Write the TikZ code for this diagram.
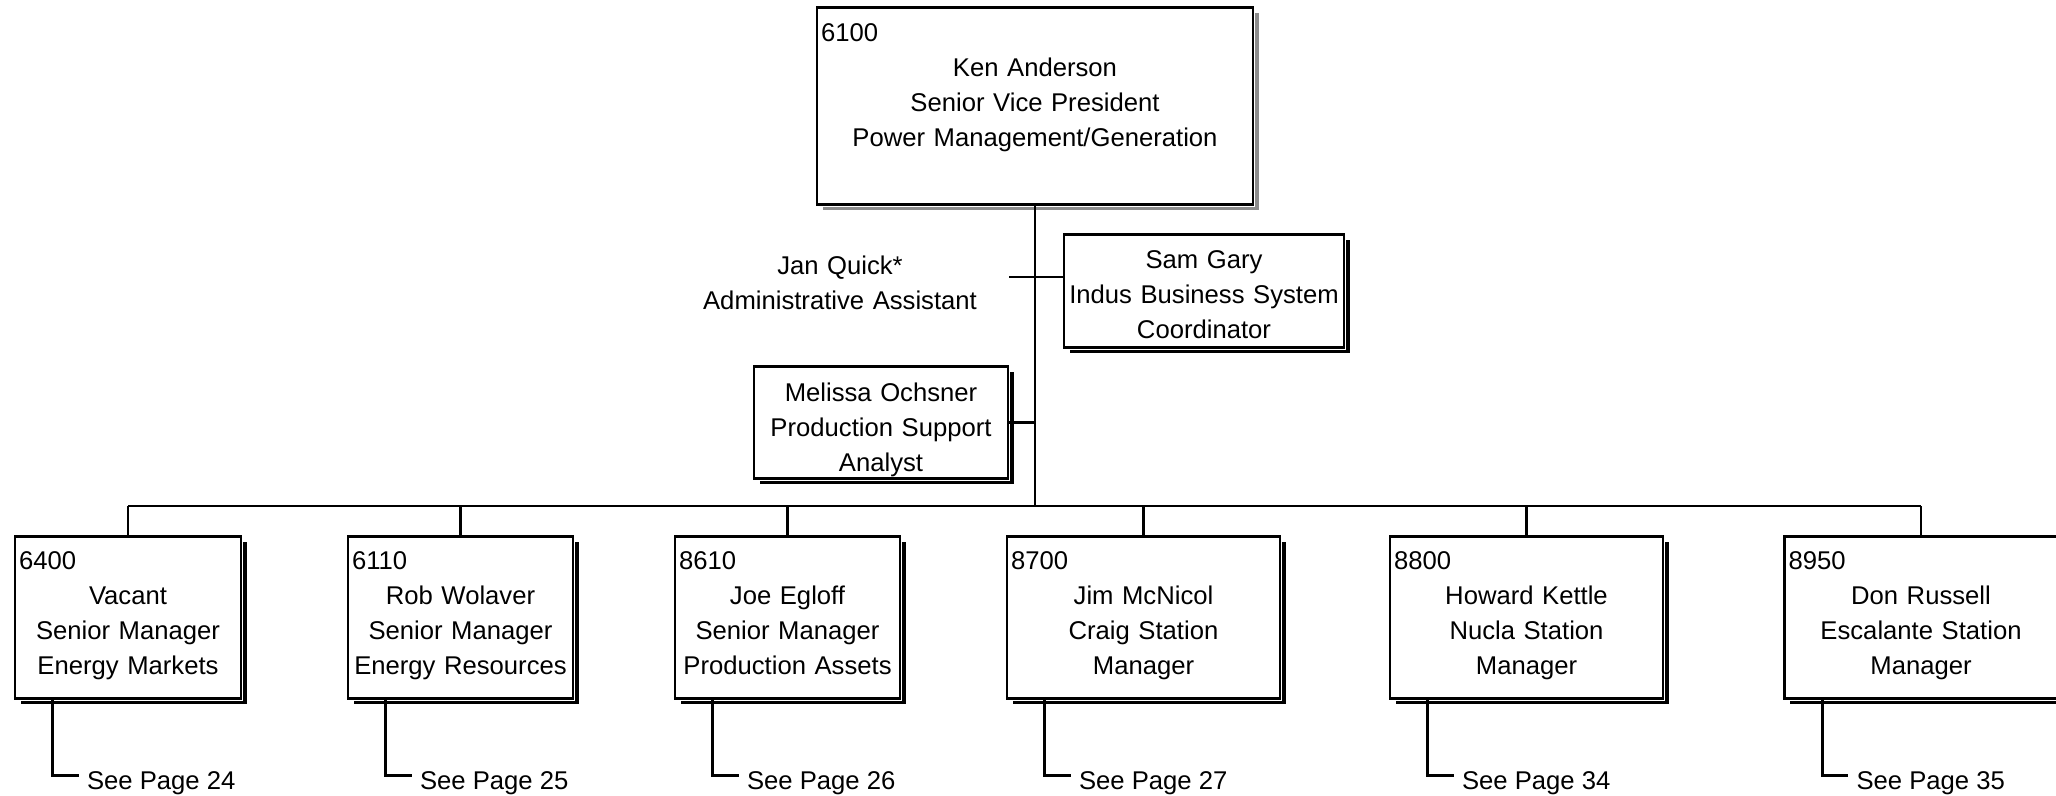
\documentclass[tikz,border=0pt]{standalone}
\usepackage{fontspec}
\setmainfont{Liberation Sans}
\usetikzlibrary{shadows}

\tikzset{
  chart/.style={font=\fontsize{7.3}{10}\selectfont},
  postbox/.style={preaction={draw=white, line width=1.3pt},
    draw, fill=white, align=center, inner xsep=0.4mm, inner ysep=0pt},
  post/.style={general shadow={fill=black, shadow xshift=1.7pt, shadow yshift=-1.7pt}, postbox},
  head/.style={general shadow={fill=black!45, shadow xshift=1.7pt, shadow yshift=-1.7pt}, postbox},
  pageref/.style={anchor=west, inner xsep=0.7mm, inner ysep=0pt, text height=8pt, text depth=0pt}
}

\begin{document}
\begin{tikzpicture}
  [x=0.1mm, y=-0.1mm, chart, line width=0.75pt]
  \useasboundingbox (0,0) rectangle (2056,795);
  \node[head, anchor=north, text width=42.8mm, text height=3.4mm, text depth=16.3mm] (svp) at (1035,6)
    {\makebox[\hsize][l]{6100}\\ Ken Anderson\\ Senior Vice President\\ Power Management/Generation};
  \node[post, anchor=north, text width=27.2mm, text height=3.4mm, text depth=7.9mm] (sg) at (1204,233)
    {Sam Gary\\ Indus Business System\\ Coordinator};
  \node[post, anchor=north, text width=24.6mm, text height=3.5mm, text depth=7.7mm] (mo) at (881,365)
    {Melissa Ochsner\\ Production Support\\ Analyst};
  \node[anchor=north, align=center, text width=28mm, inner sep=0pt, text height=1.9mm, text depth=3.4mm] (jq) at (840,254)
    {Jan Quick*\\ Administrative Assistant};
  \coordinate (jqend) at (1009,277);
  \coordinate (bus) at (1036,506);
  \draw (svp.south) -- (svp.south |- bus);
  \draw (jqend) -- (jqend -| sg.west);
  \draw (mo.east) -- (mo.east -| svp.south);
  \foreach \i/\x/\w/\code/\who/\role/\unit/\pg in {%
      1/128/21.8/6400/Vacant/Senior Manager/Energy Markets/24,%
      2/460.5/21.7/6110/Rob Wolaver/Senior Manager/Energy Resources/25,%
      3/787.5/21.7/8610/Joe Egloff/Senior Manager/Production Assets/26,%
      4/1143.5/26.5/8700/Jim McNicol/Craig Station/Manager/27,%
      5/1526.5/26.5/8800/Howard Kettle/Nucla Station/Manager/34,%
      6/1921/26.5/8950/Don Russell/Escalante Station/Manager/35}{
    \node[post, anchor=north, text width=\w mm, text height=3.3mm, text depth=12.9mm] (m\i) at (\x,535)
      {\makebox[\hsize][l]{\code}\\ \who\\ \role\\ \unit};
    \node[pageref] (p\i) at ([xshift=6.5mm, yshift=-7.6mm]m\i.south west) {See Page \pg};
    \draw ([xshift=3.9mm]m\i.south west) |- (p\i.west);
    \draw (m\i.north) -- (m\i.north |- bus);
  }
  \draw (m1.north |- bus) -- (m6.north |- bus);
\end{tikzpicture}
\end{document}
